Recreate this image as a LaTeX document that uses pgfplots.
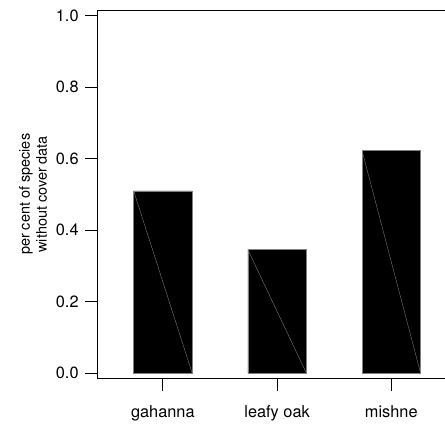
\documentclass[border=0pt]{standalone}
\usepackage{fontspec}
\setmainfont{TeX Gyre Heros}
\usepackage{pgfplots}
\pgfplotsset{compat=1.18}
\begin{document}
\begin{tikzpicture}
\begin{axis}[
  name=ax,
  scale only axis,
  width=347.3bp, height=369bp,
  xmin=-0.5713, xmax=2.467,
  ymin=-0.016, ymax=1.016,
  axis line style={draw=none},
  xtick pos=bottom, ytick pos=left,
  tick align=outside,
  major tick length=12.5bp,
  tick style={line width=0.75bp, black},
  xtick={0,1,2},
  xticklabels={gahanna, leafy oak, mishne},
  ytick={0,0.2,0.4,0.6,0.8,1.0},
  yticklabel style={xshift=-3bp, /pgf/number format/.cd, fixed, fixed zerofill, precision=1, assume math mode=true},
  ticklabel style={font=\fontsize{16.4}{19}\selectfont},
  xticklabel style={yshift=-11bp},
  ylabel={per cent of species\\without cover data},
  ylabel style={at={(rel axis cs:-0.1863,0.5)}, anchor=center, align=center, font=\fontencoding{T1}\fontfamily{phv}\fontsize{14.5}{17}\selectfont},
  clip=false,
]
\addplot[ybar, bar width=0.512, fill=black, draw=gray, line width=0.5bp] coordinates {(0,0.51) (1,0.345) (2,0.622)};
\addplot[gray, line width=0.35bp] coordinates {(-0.256,0.51) (0.256,0)};
\addplot[gray, line width=0.35bp] coordinates {(0.744,0.345) (1.256,0)};
\addplot[gray, line width=0.35bp] coordinates {(1.744,0.622) (2.256,0)};
\draw[line width=0.75bp, line cap=rect] (rel axis cs:1,1) -- (rel axis cs:0,1) -- (rel axis cs:0,0) -- (rel axis cs:1,0);
\end{axis}
\path (current axis.south west) ++(-97.7bp,-42bp) rectangle ++(445bp,421bp);
\end{tikzpicture}
\end{document}
